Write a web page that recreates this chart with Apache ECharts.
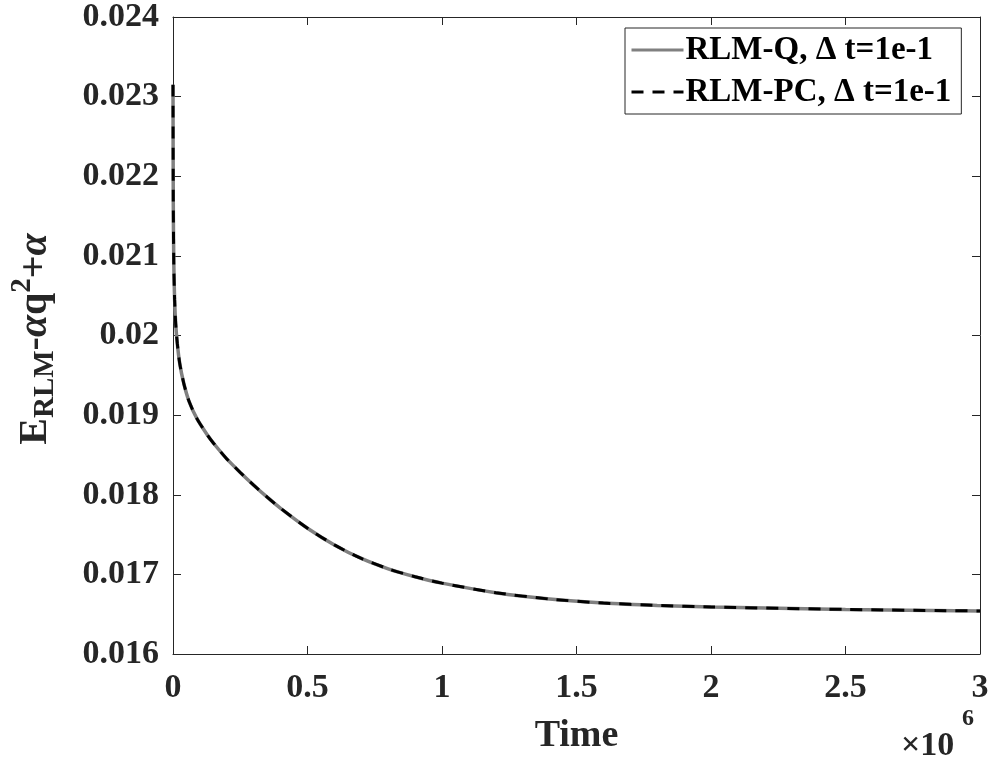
<!DOCTYPE html>
<html>
<head>
<meta charset="utf-8">
<script src="https://cdn.jsdelivr.net/npm/echarts@6/dist/echarts.min.js"></script>
<style>
  html, body { margin: 0; padding: 0; background: #fff; }
  #chart { width: 992px; height: 760px; }
</style>
</head>
<body>
<div id="chart"></div>
<script>
// time in units of 1e6
const timeValues = [0, 0.001, 0.003, 0.006, 0.01, 0.016, 0.025, 0.04, 0.06, 0.09, 0.13, 0.15, 0.2, 0.25, 0.3, 0.35, 0.4, 0.5, 0.6, 0.7, 0.8, 0.9, 1.0, 1.2, 1.4, 1.6, 1.8, 2.0, 2.5, 3.0];
const energyQ = [0.02315, 0.0217, 0.0209, 0.02045, 0.02015, 0.0199, 0.01965, 0.0194, 0.01917, 0.01895, 0.01874, 0.01865, 0.01845, 0.01828, 0.01812, 0.01797, 0.01783, 0.01758, 0.01737, 0.0172, 0.01707, 0.01697, 0.01689, 0.01677, 0.01669, 0.01664, 0.01661, 0.01659, 0.01656, 0.01654];
const energyPC = [0.02315, 0.0217, 0.0209, 0.02045, 0.02015, 0.0199, 0.01965, 0.0194, 0.01917, 0.01895, 0.01874, 0.01865, 0.01845, 0.01828, 0.01812, 0.01797, 0.01783, 0.01758, 0.01737, 0.0172, 0.01707, 0.01697, 0.01689, 0.01677, 0.01669, 0.01664, 0.01661, 0.01659, 0.01656, 0.01654];
const seriesNames = ['RLM-Q, \u0394 t=1e-1', 'RLM-PC, \u0394 t=1e-1'];

const FONT = '"Liberation Serif", "Times New Roman", serif';

const chart = echarts.init(document.getElementById('chart'));

const pairs = (xs, ys) => xs.map((x, i) => [x, ys[i]]);

// y label pieces, laid out along the rotated baseline
const measureCtx = document.createElement('canvas').getContext('2d');
function textWidth(t, size, italic) {
  measureCtx.font = (italic ? 'italic ' : '') + 'bold ' + size + 'px ' + FONT;
  return measureCtx.measureText(t).width;
}
const labelParts = [
  { t: 'E', size: 40, dy: 0 },
  { t: 'RLM', size: 29, dy: 10 },
  { t: '-', size: 40, dy: 0 },
  { t: '\u03b1', size: 40, dy: 0, italic: true },
  { t: 'q', size: 40, dy: 0 },
  { t: '2', size: 29, dy: -13 },
  { t: '+', size: 40, dy: 0 },
  { t: '\u03b1', size: 40, dy: 0, italic: true }
];
let total = 0;
labelParts.forEach(p => { p.w = textWidth(p.t, p.size, p.italic); total += p.w; });
let cursor = -total / 2;
const labelChildren = labelParts.map(p => {
  const el = {
    type: 'text',
    x: cursor,
    y: p.dy,
    style: {
      text: p.t,
      font: (p.italic ? 'italic ' : '') + 'bold ' + p.size + 'px ' + FONT,
      fill: '#262626',
      align: 'left',
      verticalAlign: 'middle'
    }
  };
  cursor += p.w;
  return el;
});

const tickLabel = { color: '#262626', fontFamily: FONT, fontWeight: 'bold', fontSize: 34 };
const lineBlack = { lineStyle: { color: '#262626', width: 1 } };

const option = {
  animation: false,
  grid: { left: 173, right: 12, top: 13, bottom: 103 },
  xAxis: [
    {
      type: 'value', min: 0, max: 3, interval: 0.5,
      axisLine: { show: true, onZero: false, ...lineBlack },
      axisTick: { show: true, inside: true, length: 8, ...lineBlack },
      splitLine: { show: false },
      axisLabel: { ...tickLabel, margin: 17, formatter: v => String(+v.toFixed(1)) },
      name: 'Time', nameLocation: 'middle', nameGap: 63,
      nameTextStyle: { color: '#262626', fontFamily: FONT, fontWeight: 'bold', fontSize: 38 }
    },
    {
      type: 'value', position: 'top', min: 0, max: 3, interval: 0.5,
      axisLine: { show: true, onZero: false, ...lineBlack },
      axisTick: { show: true, inside: true, length: 8, ...lineBlack },
      splitLine: { show: false }, axisLabel: { show: false }
    }
  ],
  yAxis: [
    {
      type: 'value', min: 0.016, max: 0.024, interval: 0.001,
      axisLine: { show: true, onZero: false, ...lineBlack },
      axisTick: { show: true, inside: true, length: 8, ...lineBlack },
      splitLine: { show: false },
      axisLabel: { ...tickLabel, margin: 14, formatter: v => String(+v.toFixed(3)) }
    },
    {
      type: 'value', position: 'right', min: 0.016, max: 0.024, interval: 0.001,
      axisLine: { show: true, onZero: false, ...lineBlack },
      axisTick: { show: true, inside: true, length: 8, ...lineBlack },
      splitLine: { show: false }, axisLabel: { show: false }
    }
  ],
  legend: {
    orient: 'vertical',
    left: 625, top: 28,
    padding: [5, 10, 5, 5],
    itemGap: 8,
    itemWidth: 52,
    itemHeight: 14,
    borderColor: '#262626',
    borderWidth: 1,
    backgroundColor: '#fff',
    itemStyle: { opacity: 0 },
    lineStyle: { width: 3 },
    data: seriesNames,
    textStyle: { color: '#000', fontFamily: FONT, fontWeight: 'bold', fontSize: 33, lineHeight: 34, padding: [0, 0, 0, -3] }
  },
  series: [
    {
      name: seriesNames[0], type: 'line', data: pairs(timeValues, energyQ),
      symbol: 'none', smooth: 0.25,
      lineStyle: { color: '#808080', width: 3.5 },
      itemStyle: { color: '#808080' }
    },
    {
      name: seriesNames[1], type: 'line', data: pairs(timeValues, energyPC),
      symbol: 'none', smooth: 0.25,
      lineStyle: { color: '#000', width: 3, type: [12, 9] },
      itemStyle: { color: '#000' }
    }
  ],
  graphic: [
    { type: 'group', x: 36, y: 339, rotation: Math.PI / 2, children: labelChildren },
    {
      type: 'text', left: 901, top: 729,
      style: { text: '\u00d710', font: 'bold 34px ' + FONT, fill: '#262626' }
    },
    {
      type: 'text', left: 962, top: 707,
      style: { text: '6', font: 'bold 24px ' + FONT, fill: '#262626' }
    }
  ]
};

chart.setOption(option);
</script>
</body>
</html>
